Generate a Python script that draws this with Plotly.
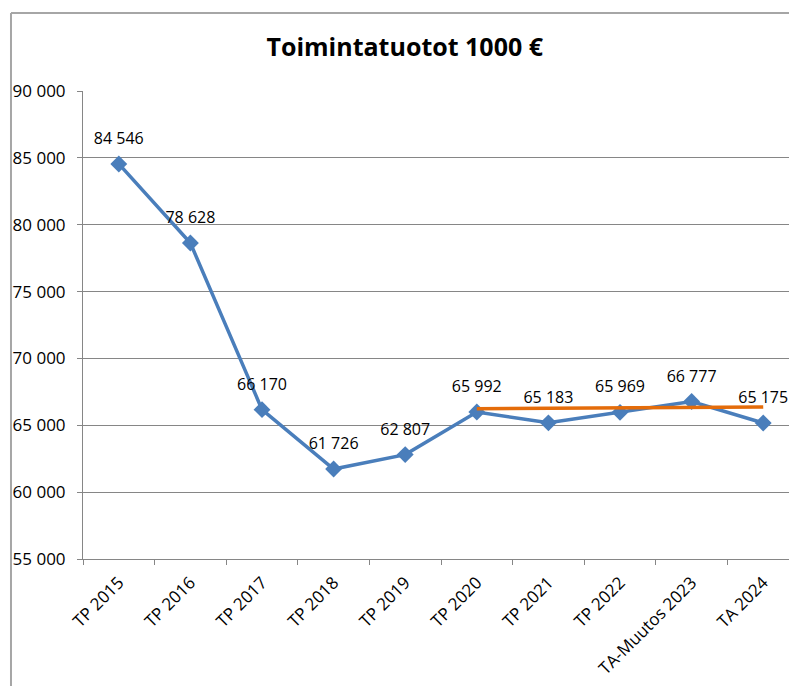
import plotly.graph_objects as go

# Data
categories = ["TP 2015", "TP 2016", "TP 2017", "TP 2018", "TP 2019",
              "TP 2020", "TP 2021", "TP 2022", "TA-Muutos 2023", "TA 2024"]
toimintatuotot = [84546, 78628, 66170, 61726, 62807,
                  65992, 65183, 65969, 66777, 65175]
labels = ["84 546", "78 628", "66 170", "61 726", "62 807",
          "65 992", "65 183", "65 969", "66 777", "65 175"]

# orange reference line (start / end level)
ref_x = ["TP 2020", "TA 2024"]
ref_y = [66240, 66360]

y_ticks = [55000, 60000, 65000, 70000, 75000, 80000, 85000, 90000]

FONT = "Open Sans"
GRID = "#868686"
BLUE = "#4A7EBB"

fig = go.Figure()

fig.add_trace(go.Scatter(
    x=categories,
    y=toimintatuotot,
    mode="lines+markers",
    line=dict(color=BLUE, width=3.5),
    marker=dict(symbol="diamond", size=13, color=BLUE),
    showlegend=False,
))

fig.add_trace(go.Scatter(
    x=ref_x,
    y=ref_y,
    mode="lines",
    line=dict(color="#E46C0A", width=3.5),
    showlegend=False,
))

# data labels (invisible bigger marker lifts the text a bit higher)
fig.add_trace(go.Scatter(
    x=categories,
    y=toimintatuotot,
    mode="markers+text",
    text=labels,
    textposition="top center",
    textfont=dict(family=FONT, size=16, color="black"),
    marker=dict(size=24, opacity=0),
    cliponaxis=False,
    hoverinfo="skip",
    showlegend=False,
))

# chart frame (left and top edges visible in the reference)
fig.add_shape(type="line", xref="paper", yref="paper",
              x0=-0.102, x1=-0.102, y0=1.1667, y1=-0.28,
              line=dict(color="#A6A6A6", width=2))
fig.add_shape(type="line", xref="paper", yref="paper",
              x0=-0.102, x1=1.01, y0=1.1667, y1=1.1667,
              line=dict(color="#A6A6A6", width=2))

fig.update_layout(
    width=789,
    height=686,
    margin=dict(l=83, r=0, t=91, b=127),
    paper_bgcolor="white",
    plot_bgcolor="white",
    separators=", ",
    font=dict(family=FONT, size=16, color="black"),
    title=dict(
        text="<b>Toimintatuotot 1000 €</b>",
        x=0.513, xanchor="center",
        y=0.931, yanchor="middle",
        font=dict(family=FONT, size=25, color="black"),
    ),
)

fig.update_xaxes(
    type="category",
    range=[-0.5, 9.36],
    tickangle=-45,
    tickfont=dict(family=FONT, size=17, color="black"),
    ticks="outside",
    tickson="boundaries",
    ticklen=5,
    tickcolor=GRID,
    ticklabelstandoff=6,
    showline=True,
    linecolor=GRID,
    linewidth=1,
    showgrid=False,
)

fig.update_yaxes(
    range=[55000, 90000],
    tickvals=y_ticks,
    tickformat=",d",
    tickfont=dict(family=FONT, size=17, color="black"),
    ticks="outside",
    ticklen=5,
    tickcolor=GRID,
    ticklabelstandoff=8,
    showline=True,
    linecolor=GRID,
    linewidth=1,
    showgrid=True,
    gridcolor=GRID,
    gridwidth=1,
    zeroline=False,
)

# page body has an 8px default margin; drop it so the figure fills the window
fig.write_html("out.html",
               config={"displayModeBar": False},
               post_script="document.body.style.margin='0';"
                           "document.body.style.overflow='hidden';")
